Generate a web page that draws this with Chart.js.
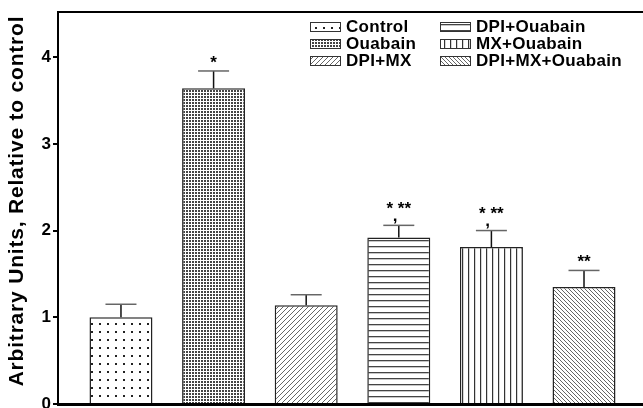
<!DOCTYPE html>
<html>
<head>
<meta charset="utf-8">
<script src="https://cdn.jsdelivr.net/npm/chart.js@4"></script>
<style>
html,body{margin:0;padding:0;background:#fff;}
canvas{display:block;}
</style>
</head>
<body>
<canvas id="c" width="643" height="408"></canvas>
<script>
// ---- data ----
const categories = ["Control", "Ouabain", "DPI+MX", "DPI+Ouabain", "MX+Ouabain", "DPI+MX+Ouabain"];
const values = [1.00, 3.64, 1.14, 1.92, 1.81, 1.35];
const errors = [0.15, 0.20, 0.12, 0.14, 0.19, 0.19];
const significance = ["", "*", "", "*,**", "*,**", "**"];
const yTicks = [0, 1, 2, 3, 4];
const yTitle = "Arbitrary Units, Relative to control";
const legendColumns = [[0, 1, 2], [3, 4, 5]];

const FONT = '"Liberation Sans", Arial, sans-serif';

// ---- patterns ----
function tile(w, h, draw) {
  const c = document.createElement('canvas');
  c.width = w; c.height = h;
  const g = c.getContext('2d');
  g.fillStyle = '#fff'; g.fillRect(0, 0, w, h);
  draw(g, w, h);
  return document.getElementById('c').getContext('2d').createPattern(c, 'repeat');
}
const patterns = [
  tile(8, 8, g => { g.fillStyle = '#222'; g.fillRect(3, 3, 2, 2); }),
  tile(3, 3, g => { g.fillStyle = '#444'; g.fillRect(0, 0, 2, 2); }),
  tile(5, 5, g => { g.strokeStyle = '#555'; g.lineWidth = 0.9;
    for (let k = -1; k <= 1; k++) { g.beginPath(); g.moveTo(k*5, 5); g.lineTo(k*5 + 5, 0); g.stroke(); } }),
  tile(6, 6, g => { g.fillStyle = '#444'; g.fillRect(0, 0, 6, 1.3); }),
  tile(6, 6, g => { g.fillStyle = '#333'; g.fillRect(0, 0, 1.2, 6); }),
  tile(4, 4, g => { g.strokeStyle = '#555'; g.lineWidth = 0.9;
    for (let k = -1; k <= 1; k++) { g.beginPath(); g.moveTo(k*4, 0); g.lineTo(k*4 + 4, 4); g.stroke(); } })
];

// ---- plugins ----
const extras = {
  id: 'extras',
  afterDatasetsDraw(chart) {
    const ctx = chart.ctx;
    const ys = chart.scales.y;
    const meta = chart.getDatasetMeta(0);
    const ca = chart.chartArea;
    ctx.save();
    // top frame line
    ctx.strokeStyle = '#000'; ctx.lineWidth = 2;
    ctx.beginPath(); ctx.moveTo(ca.left - 1, ca.top); ctx.lineTo(chart.width, ca.top); ctx.stroke();
    // error bars & significance
    meta.data.forEach((bar, i) => {
      const x = bar.x;
      const yv = ys.getPixelForValue(values[i]);
      const ye = ys.getPixelForValue(values[i] + errors[i]);
      ctx.strokeStyle = '#111'; ctx.lineWidth = 1.5;
      ctx.beginPath(); ctx.moveTo(x, yv); ctx.lineTo(x, ye); ctx.stroke();
      ctx.strokeStyle = '#666';
      ctx.beginPath(); ctx.moveTo(x - 15.5, ye); ctx.lineTo(x + 15.5, ye); ctx.stroke();
      const s = significance[i];
      if (s) {
        ctx.fillStyle = '#000';
        ctx.font = 'bold 17px ' + FONT;
        ctx.textAlign = 'center'; ctx.textBaseline = 'middle';
        if (s.indexOf(',') >= 0) {
          const parts = s.split(',');
          const txt = parts[0] + ' ' + parts[1];
          ctx.fillText(txt, x, ye - 16);
          const w0 = ctx.measureText(parts[0]).width;
          const wt = ctx.measureText(txt).width;
          ctx.fillText(',', x - wt / 2 + w0 + 2, ye - 9);
        } else {
          ctx.fillText(s, x, ye - 8);
        }
      }
    });
    // y title
    ctx.save();
    ctx.translate(17, 201);
    ctx.rotate(-Math.PI / 2);
    ctx.font = 'bold 21px ' + FONT;
    if ('letterSpacing' in ctx) ctx.letterSpacing = '0.8px';
    ctx.fillStyle = '#000';
    ctx.textAlign = 'center'; ctx.textBaseline = 'middle';
    ctx.fillText(yTitle, 0, 0);
    ctx.restore();
    // legend
    const colX = [310, 440];
    const rowY = [27, 44, 61];
    ctx.font = 'bold 17px ' + FONT;
    if ('letterSpacing' in ctx) ctx.letterSpacing = '0.3px';
    ctx.textAlign = 'left'; ctx.textBaseline = 'middle';
    legendColumns.forEach((col, ci) => {
      col.forEach((idx, ri) => {
        const bx = colX[ci], by = rowY[ri];
        ctx.fillStyle = patterns[idx];
        ctx.fillRect(bx, by - 5, 30, 10);
        ctx.strokeStyle = '#333'; ctx.lineWidth = 1;
        ctx.strokeRect(bx + 0.5, by - 4.5, 30, 9);
        ctx.fillStyle = '#000';
        ctx.fillText(categories[idx], bx + 36, by);
      });
    });
    ctx.restore();
  }
};

new Chart(document.getElementById('c'), {
  type: 'bar',
  data: {
    datasets: [{
      data: categories.map((c, i) => ({ x: i, y: values[i] })),
      backgroundColor: patterns,
      borderColor: '#222',
      borderWidth: 1.5,
      barPercentage: 0.68,
      categoryPercentage: 1.0
    }]
  },
  plugins: [extras],
  options: {
    responsive: false,
    animation: false,
    events: [],
    layout: { padding: { top: 12, left: 0, right: 0, bottom: 0 } },
    plugins: { legend: { display: false }, tooltip: { enabled: false } },
    scales: {
      x: {
        type: 'linear',
        offset: false,
        min: -0.68, max: 5.637,
        afterBuildTicks(s) { s.ticks = categories.map((c, i) => ({ value: i })); },
        ticks: { display: false },
        grid: { display: false, offset: false },
        border: { display: true, color: '#000', width: 3 },
        afterFit(s) { s.height = 4; s.paddingLeft = 0; s.paddingRight = 0; }
      },
      y: {
        min: 0, max: 4.52,
        afterBuildTicks(s) { s.ticks = yTicks.map(v => ({ value: v })); },
        afterFit(s) { s.width = 58; s.paddingTop = 0; s.paddingBottom = 0; },
        ticks: {
          color: '#000',
          padding: 2,
          font: { family: FONT, size: 17, weight: 'bold' }
        },
        grid: { drawOnChartArea: false, drawTicks: true, tickLength: 5, color: '#000', lineWidth: 2 },
        border: { display: true, color: '#000', width: 2 }
      }
    }
  }
});
</script>
</body>
</html>
